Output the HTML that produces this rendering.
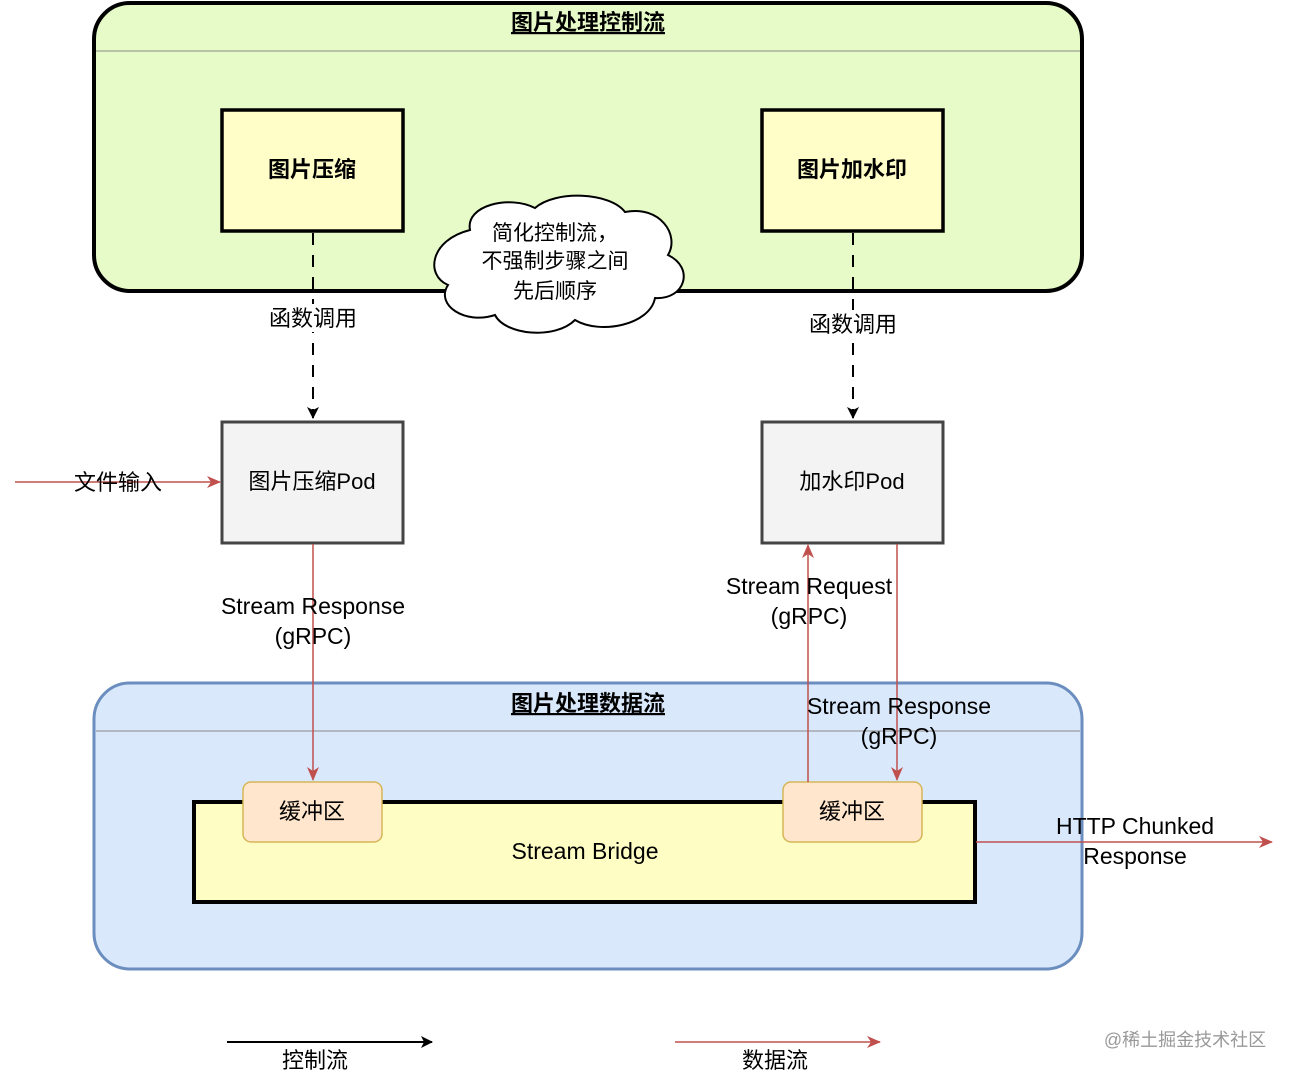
<!DOCTYPE html>
<html><head><meta charset="utf-8"><style>
body{margin:0;background:#fff;}
svg text{font-family:"Liberation Sans","Noto Sans CJK SC",sans-serif;}
</style></head><body>
<svg width="1292" height="1078" viewBox="0 0 1292 1078" xmlns="http://www.w3.org/2000/svg">
<defs>
<marker id="ab" markerWidth="12" markerHeight="12" refX="11" refY="6" orient="auto" markerUnits="userSpaceOnUse"><path d="M0,0 L12,6 L0,12 L3,6 z" fill="#000"/></marker>
<marker id="ar" markerWidth="14" markerHeight="12" refX="13" refY="6" orient="auto" markerUnits="userSpaceOnUse"><path d="M0,0 L14,6 L0,12 L4,6 z" fill="#c0504d"/></marker>
</defs>
<rect width="1292" height="1078" fill="#fff"/>
<rect x="94" y="3" width="988" height="288" rx="36" fill="#e6fbc8" stroke="#000" stroke-width="4"/>
<line x1="96" y1="51" x2="1080" y2="51" stroke="#888" stroke-width="1"/>
<text x="588" y="30" font-size="22" font-weight="bold" text-anchor="middle" text-decoration="underline">图片处理控制流</text>
<rect x="222" y="110" width="181" height="121" fill="#fffdc8" stroke="#000" stroke-width="3.5"/>
<text x="312" y="177" font-size="22" font-weight="bold" text-anchor="middle">图片压缩</text>
<rect x="762" y="110" width="181" height="121" fill="#fffdc8" stroke="#000" stroke-width="3.5"/>
<text x="852" y="177" font-size="22" font-weight="bold" text-anchor="middle">图片加水印</text>
<line x1="313" y1="233" x2="313" y2="418" stroke="#000" stroke-width="2" stroke-dasharray="12,10" marker-end="url(#ab)"/>
<rect x="262" y="304" width="102" height="28" fill="#fff"/>
<text x="313" y="326" font-size="22" text-anchor="middle">函数调用</text>
<line x1="853" y1="233" x2="853" y2="418" stroke="#000" stroke-width="2" stroke-dasharray="12,10" marker-end="url(#ab)"/>
<rect x="802" y="310" width="102" height="28" fill="#fff"/>
<text x="853" y="332" font-size="22" text-anchor="middle">函数调用</text>
<path d="M470,230 C465,205 510,195 535,208 C555,190 610,192 625,212 C660,205 680,235 668,255 C695,268 685,300 655,298 C650,325 600,335 575,320 C555,340 505,335 495,315 C465,325 435,305 448,285 C425,275 430,240 470,230 z" fill="#fff" stroke="#000" stroke-width="2"/>
<text x="555" y="240" font-size="21" text-anchor="middle">简化控制流，</text>
<text x="555" y="268" font-size="21" text-anchor="middle">不强制步骤之间</text>
<text x="555" y="298" font-size="21" text-anchor="middle">先后顺序</text>
<rect x="222" y="422" width="181" height="121" fill="#f3f3f3" stroke="#444" stroke-width="3"/>
<text x="312" y="489" font-size="22" text-anchor="middle">图片压缩Pod</text>
<rect x="762" y="422" width="181" height="121" fill="#f3f3f3" stroke="#444" stroke-width="3"/>
<text x="852" y="489" font-size="22" text-anchor="middle">加水印Pod</text>
<line x1="15" y1="482" x2="220" y2="482" stroke="#c0504d" stroke-width="1.5" marker-end="url(#ar)"/>
<text x="118" y="490" font-size="22" text-anchor="middle">文件输入</text>
<rect x="94" y="683" width="988" height="286" rx="36" fill="#dae8fc" stroke="#6c8ebf" stroke-width="3"/>
<line x1="96" y1="731" x2="1080" y2="731" stroke="#888" stroke-width="1"/>
<text x="588" y="711" font-size="22" font-weight="bold" text-anchor="middle" text-decoration="underline">图片处理数据流</text>
<rect x="194" y="802" width="781" height="100" fill="#fdfdc4" stroke="#000" stroke-width="4"/>
<text x="585" y="859" font-size="23" text-anchor="middle">Stream Bridge</text>
<rect x="243" y="782" width="139" height="60" rx="8" fill="#ffe6cc" stroke="#d6b656" stroke-width="1.5"/>
<text x="312" y="819" font-size="22" text-anchor="middle">缓冲区</text>
<rect x="783" y="782" width="139" height="60" rx="8" fill="#ffe6cc" stroke="#d6b656" stroke-width="1.5"/>
<text x="852" y="819" font-size="22" text-anchor="middle">缓冲区</text>
<line x1="313" y1="544" x2="313" y2="780" stroke="#c0504d" stroke-width="1.5" marker-end="url(#ar)"/>
<text x="313" y="614" font-size="23" text-anchor="middle">Stream Response</text>
<text x="313" y="644" font-size="23" text-anchor="middle">(gRPC)</text>
<line x1="808" y1="782" x2="808" y2="545" stroke="#c0504d" stroke-width="1.5" marker-end="url(#ar)"/>
<text x="809" y="594" font-size="23" text-anchor="middle">Stream Request</text>
<text x="809" y="624" font-size="23" text-anchor="middle">(gRPC)</text>
<line x1="897" y1="544" x2="897" y2="780" stroke="#c0504d" stroke-width="1.5" marker-end="url(#ar)"/>
<text x="899" y="714" font-size="23" text-anchor="middle">Stream Response</text>
<text x="899" y="744" font-size="23" text-anchor="middle">(gRPC)</text>
<line x1="976" y1="842" x2="1272" y2="842" stroke="#c0504d" stroke-width="1.5" marker-end="url(#ar)"/>
<text x="1135" y="834" font-size="23" text-anchor="middle">HTTP Chunked</text>
<text x="1135" y="864" font-size="23" text-anchor="middle">Response</text>
<line x1="227" y1="1042" x2="432" y2="1042" stroke="#000" stroke-width="2" marker-end="url(#ab)"/>
<text x="315" y="1068" font-size="22" text-anchor="middle">控制流</text>
<line x1="675" y1="1042" x2="880" y2="1042" stroke="#c0504d" stroke-width="1.5" marker-end="url(#ar)"/>
<text x="775" y="1068" font-size="22" text-anchor="middle">数据流</text>
<text x="1185" y="1046" font-size="18" fill="#999" text-anchor="middle">@稀土掘金技术社区</text>
</svg>
</body></html>
